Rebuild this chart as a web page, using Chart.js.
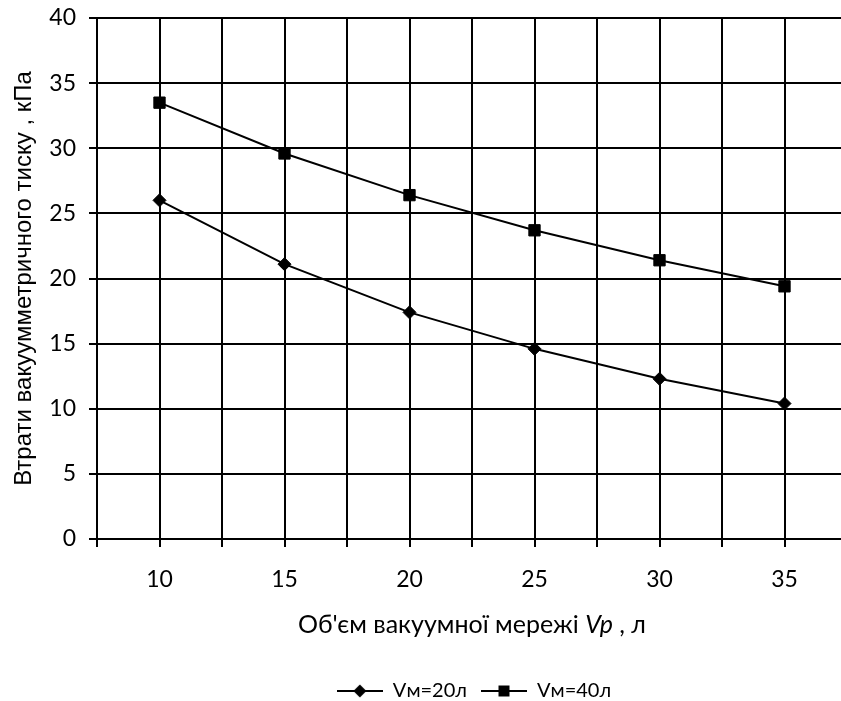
<!DOCTYPE html>
<html>
<head>
<meta charset="utf-8">
<script src="https://cdn.jsdelivr.net/npm/chart.js@4/dist/chart.umd.min.js"></script>
<style>
  html, body { margin: 0; padding: 0; background: #fff; overflow: hidden; }
</style>
</head>
<body>
<canvas id="myChart" width="948" height="711"></canvas>
<script>
// data
const volumes = [10, 15, 20, 25, 30, 35];
const lossVm20 = [26.0, 21.1, 17.4, 14.6, 12.3, 10.4];
const lossVm40 = [33.5, 29.6, 26.4, 23.7, 21.4, 19.4];
const seriesNames = ['Vм=20л', 'Vм=40л'];
const yTitle = 'Втрати вакуумметричного тиску , кПа';
const xTitleParts = ["Об'єм вакуумної мережі ", 'Vp', ' , л'];

const tickFont = { family: 'Lato', size: 23 };

const toPoints = (vals) => volumes.map((v, i) => ({ x: v, y: vals[i] }));

// legend sample: short line with marker in the middle
const makeLegendIcon = (kind) => {
    const c = document.createElement('canvas');
    c.width = 46;
    c.height = 14;
    const g = c.getContext('2d');
    g.strokeStyle = '#000';
    g.fillStyle = '#000';
    g.lineWidth = 2;
    g.beginPath();
    g.moveTo(0, 7);
    g.lineTo(46, 7);
    g.stroke();
    g.beginPath();
    if (kind === 'diamond') {
        g.moveTo(23, 0.5);
        g.lineTo(29.5, 7);
        g.lineTo(23, 13.5);
        g.lineTo(16.5, 7);
        g.closePath();
    } else {
        g.rect(17.5, 1.5, 11, 11);
    }
    g.fill();
    return c;
};
const legendIcons = [makeLegendIcon('diamond'), makeLegendIcon('square')];

// x axis title with italic "Vp"
const xTitlePlugin = {
    id: 'xTitle',
    afterDraw(chart) {
        const { ctx, chartArea } = chart;
        const fonts = ['25px Lato', 'italic 25px Lato', '25px Lato'];
        ctx.save();
        let total = 0;
        const widths = xTitleParts.map((t, i) => {
            ctx.font = fonts[i];
            const w = ctx.measureText(t).width;
            total += w;
            return w;
        });
        let x = (chartArea.left + chartArea.right) / 2 - total / 2;
        const y = chartArea.bottom + 86;
        ctx.fillStyle = '#000';
        ctx.textBaseline = 'middle';
        ctx.textAlign = 'left';
        xTitleParts.forEach((t, i) => {
            ctx.font = fonts[i];
            ctx.fillText(t, x, y);
            x += widths[i];
        });
        ctx.restore();
    }
};

const ctx = document.getElementById('myChart');

new Chart(ctx, {
    type: 'line',
    data: {
        datasets: [{
            label: seriesNames[0],
            data: toPoints(lossVm20),
            borderColor: '#000',
            backgroundColor: '#000',
            borderWidth: 2,
            pointStyle: 'rectRot',
            pointRadius: 6.5,
            pointBorderWidth: 1,
            tension: 0
        }, {
            label: seriesNames[1],
            data: toPoints(lossVm40),
            borderColor: '#000',
            backgroundColor: '#000',
            borderWidth: 2,
            pointStyle: 'rect',
            pointRadius: 8,
            pointBorderWidth: 1,
            tension: 0
        }]
    },
    options: {
        responsive: false,
        devicePixelRatio: 1,
        animation: false,
        layout: { padding: { top: 18, bottom: 0, left: 0, right: 0 } },
        plugins: {
            tooltip: { enabled: false },
            legend: {
                position: 'bottom',
                labels: {
                    color: '#000',
                    font: { family: 'Lato', size: 20 },
                    usePointStyle: true,
                    pointStyleWidth: 46,
                    padding: 14,
                    generateLabels: (chart) => {
                        const items = Chart.defaults.plugins.legend.labels.generateLabels(chart);
                        items.forEach((it, i) => { it.pointStyle = legendIcons[i]; });
                        return items;
                    }
                }
            }
        },
        scales: {
            x: {
                type: 'linear',
                min: 7.5,
                max: 37.5,
                afterBuildTicks: (scale) => {
                    const t = [];
                    for (let v = 7.5; v <= 37.5; v += 2.5) t.push({ value: v });
                    scale.ticks = t;
                },
                afterFit: (scale) => { scale.height = 128; },
                ticks: {
                    autoSkip: false,
                    maxRotation: 0,
                    color: '#000',
                    font: tickFont,
                    padding: 19,
                    callback: (v) => (v % 5 === 0 ? String(v) : '')
                },
                grid: { color: '#000', lineWidth: 2, tickLength: 8 },
                border: { color: '#000', width: 2 }
            },
            y: {
                min: 0,
                max: 40,
                afterFit: (scale) => {
                    scale.width = 97;
                    scale.paddingTop = 0;
                    scale.paddingBottom = 0;
                },
                ticks: { stepSize: 5, color: '#000', font: tickFont, padding: 13 },
                grid: { color: '#000', lineWidth: 2, tickLength: 8 },
                border: { color: '#000', width: 2 },
                title: {
                    display: true,
                    text: yTitle,
                    color: '#000',
                    font: { family: 'Liberation Sans', size: 24 },
                    padding: { top: 10, bottom: 0 }
                }
            },
            yPad: {
                position: 'right',
                display: true,
                ticks: { display: false },
                grid: { display: false },
                border: { display: false },
                afterFit: (scale) => { scale.width = 101; }
            }
        }
    },
    plugins: [xTitlePlugin]
});
</script>
</body>
</html>
